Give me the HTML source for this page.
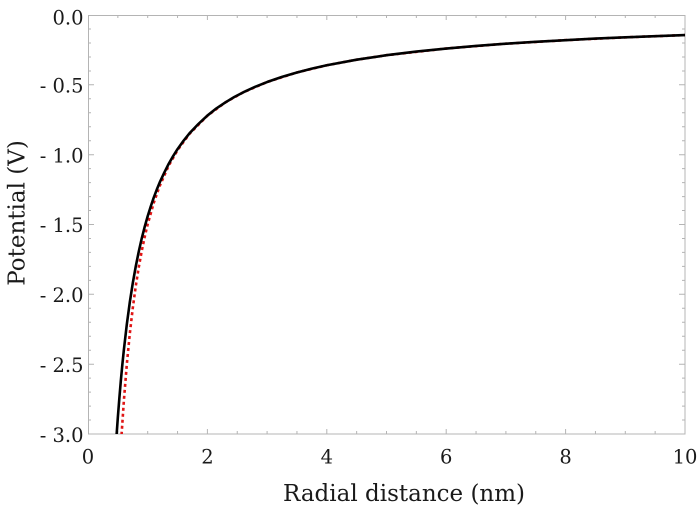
<!DOCTYPE html>
<html>
<head>
<meta charset="utf-8">
<style>
  html, body { margin: 0; padding: 0; background: #ffffff; }
  svg { display: block; }
  text { font-family: "DejaVu Serif", "Liberation Serif", serif; fill: #1a1a1a; }
</style>
</head>
<body>
<svg width="698" height="512" viewBox="0 0 698 512" xmlns="http://www.w3.org/2000/svg">
  <defs>
    <clipPath id="plot">
      <rect x="88" y="15" width="597" height="419"/>
    </clipPath>
  </defs>
  <rect x="0" y="0" width="698" height="512" fill="#ffffff"/>

  <!-- frame -->
  <rect x="88.5" y="15.5" width="596.5" height="418.5" fill="none" stroke="#b4b4b4" stroke-width="1"/>

  <!-- ticks -->
  <g stroke="#b4b4b4" stroke-width="1" fill="none">
    <!-- left Y ticks -->
    <path d="
      M88 15.5h6 M88 29h3 M88 43h3 M88 57h3 M88 71h3
      M88 84.8h6 M88 98.8h3 M88 112.8h3 M88 126.7h3 M88 140.7h3
      M88 154.7h6 M88 168.6h3 M88 182.6h3 M88 196.6h3 M88 210.5h3
      M88 224.5h6 M88 238.5h3 M88 252.4h3 M88 266.4h3 M88 280.4h3
      M88 294.3h6 M88 308.3h3 M88 322.3h3 M88 336.2h3 M88 350.2h3
      M88 364.2h6 M88 378.1h3 M88 392.1h3 M88 406.1h3 M88 420h3"/>
    <!-- right Y ticks -->
    <path d="
      M685 15.5h-6 M685 29h-3 M685 43h-3 M685 57h-3 M685 71h-3
      M685 84.8h-6 M685 98.8h-3 M685 112.8h-3 M685 126.7h-3 M685 140.7h-3
      M685 154.7h-6 M685 168.6h-3 M685 182.6h-3 M685 196.6h-3 M685 210.5h-3
      M685 224.5h-6 M685 238.5h-3 M685 252.4h-3 M685 266.4h-3 M685 280.4h-3
      M685 294.3h-6 M685 308.3h-3 M685 322.3h-3 M685 336.2h-3 M685 350.2h-3
      M685 364.2h-6 M685 378.1h-3 M685 392.1h-3 M685 406.1h-3 M685 420h-3"/>
    <!-- bottom X ticks -->
    <path d="
      M88.5 434v-5 M117.85 434v-3 M147.7 434v-3 M177.55 434v-3
      M207.4 434v-5 M237.25 434v-3 M267.1 434v-3 M296.95 434v-3
      M326.8 434v-5 M356.65 434v-3 M386.5 434v-3 M416.35 434v-3
      M446.2 434v-5 M476.05 434v-3 M505.9 434v-3 M535.75 434v-3
      M565.6 434v-5 M595.45 434v-3 M625.3 434v-3 M655.15 434v-3"/>
    <!-- top X ticks -->
    <path d="
      M117.85 15v3 M147.7 15v3 M177.55 15v3
      M207.4 15v5 M237.25 15v3 M267.1 15v3 M296.95 15v3
      M326.8 15v5 M356.65 15v3 M386.5 15v3 M416.35 15v3
      M446.2 15v5 M476.05 15v3 M505.9 15v3 M535.75 15v3
      M565.6 15v5 M595.45 15v3 M625.3 15v3 M655.15 15v3"/>
  </g>

  <!-- curves -->
  <g clip-path="url(#plot)" fill="none" stroke-linejoin="round">
    <polyline stroke="#e01515" stroke-width="2.6" stroke-dasharray="3,3"
      points="120.8,446.7 121.61,434 123.82,401.4 126.81,364.4 129.79,333.8 132.78,308.0 135.76,286.1 138.75,267.3 141.73,251.0 144.72,236.8 147.7,224.2 153.67,203.1 159.64,186.05 168.6,165.8 177.55,150.1 189.49,133.8 207.4,115.7 225.31,102.43 243.22,92.35 267.1,82.03 296.95,72.46 326.8,65.28 356.65,59.69 386.5,55.22 446.2,48.52 505.9,43.73 565.6,40.14 625.3,37.34 685,35.11"/>
    <polyline stroke="#000000" stroke-width="2.6"
      points="115.5,452 116.66,434 117.85,417.2 119.35,398.2 120.84,380.6 122.33,364.8 123.82,350.2 126.81,324.4 129.79,302.3 132.78,283.1 135.76,266.4 138.75,251.6 141.73,238.4 144.72,226.7 147.7,216.1 150.69,206.6 153.67,197.8 156.66,189.9 159.64,182.6 164.12,172.9 168.6,164.0 173.08,156.2 177.55,149.1 183.52,140.8 189.49,133.3 198.45,123.9 207.4,115.55 216.36,108.4 225.31,102.43 234.27,97.0 243.22,92.35 255.16,86.8 267.1,82.03 282.03,76.9 296.95,72.46 311.88,68.6 326.8,65.28 356.65,59.69 386.5,55.22 416.35,51.6 446.2,48.52 476.05,45.9 505.9,43.73 535.75,41.8 565.6,40.14 595.45,38.6 625.3,37.34 655.15,36.2 685,35.11"/>
  </g>

  <!-- Y tick labels -->
  <g font-size="19.5" text-anchor="end">
    <text x="83.5" y="24.5">0.0</text>
    <text x="83.5" y="92.5">- 0.5</text>
    <text x="83.5" y="162.3">- 1.0</text>
    <text x="83.5" y="232.2">- 1.5</text>
    <text x="83.5" y="302">- 2.0</text>
    <text x="83.5" y="371.9">- 2.5</text>
    <text x="83.5" y="442">- 3.0</text>
  </g>

  <!-- X tick labels -->
  <g font-size="19.5" text-anchor="middle">
    <text x="88" y="463.5">0</text>
    <text x="207.4" y="463.5">2</text>
    <text x="326.8" y="463.5">4</text>
    <text x="446.2" y="463.5">6</text>
    <text x="565.6" y="463.5">8</text>
    <text x="685" y="463.5">10</text>
  </g>

  <!-- axis labels -->
  <text x="404" y="501" font-size="23" text-anchor="middle">Radial distance (nm)</text>
  <text transform="translate(24.5,213) rotate(-90)" font-size="23" text-anchor="middle">Potential (V)</text>
</svg>
</body>
</html>
